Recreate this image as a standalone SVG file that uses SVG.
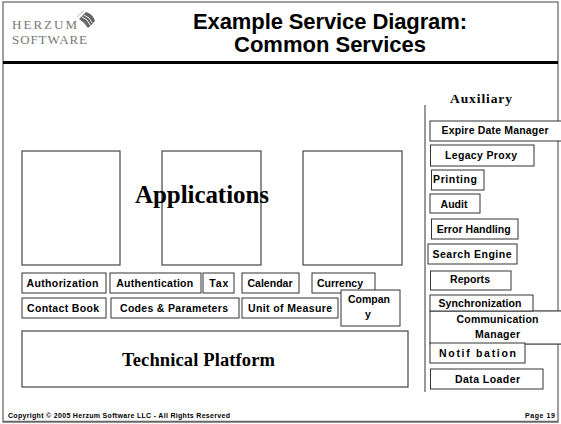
<svg xmlns="http://www.w3.org/2000/svg" width="561" height="424" viewBox="0 0 561 424">
<style>
.box{fill:#fff;stroke:#333;stroke-width:1}
.app{fill:none;stroke:#444;stroke-width:1.2}
.lbl{font-family:"Liberation Sans",Arial,sans-serif;font-weight:bold;font-size:10.5px;fill:#000;text-anchor:middle}
.serif{font-family:"Liberation Serif","Times New Roman",serif;font-weight:bold;fill:#000;text-anchor:middle}
.title{font-family:"Liberation Sans",Arial,sans-serif;font-weight:bold;font-size:22px;fill:#000;text-anchor:middle}
.foot{font-family:"Liberation Sans",Arial,sans-serif;font-weight:bold;font-size:7px;fill:#000}
.logo{font-family:"Liberation Serif","Times New Roman",serif;font-size:13px;fill:#777}
</style>
<rect x="0" y="0" width="561" height="424" fill="#fff"/>
<g id="frame">
<rect x="3" y="2" width="555" height="420" fill="none" stroke="#808080" stroke-width="1.5"/>
<line x1="3" y1="62.5" x2="558" y2="62.5" stroke="#000" stroke-width="3"/>
<line x1="3" y1="421.5" x2="558" y2="421.5" stroke="#666" stroke-width="1.5"/>
</g>
<g id="logo">
<text class="logo" x="12" y="29" textLength="65">HERZUM</text>
<text class="logo" x="12" y="43.5" textLength="75">SOFTWARE</text>
<path d="M79,19 L86,12 Q93,14 95,21 L88,28 Q84,22 79,19 Z" fill="#666"/>
<path d="M82,17 Q88,19 90,25 M84,15 Q90,17 92,23" fill="none" stroke="#fff" stroke-width="0.9"/>
<path d="M77,17 Q80,13 84,11" fill="none" stroke="#aaa" stroke-width="0.8"/>
</g>
<g id="title">
<text class="title" x="330" y="29" textLength="274">Example Service Diagram:</text>
<text class="title" x="330" y="52">Common Services</text>
</g>
<g id="applications">
<rect class="app" x="22" y="151" width="98" height="114"/>
<rect class="app" x="162" y="151" width="99" height="114"/>
<rect class="app" x="303" y="151" width="99" height="114"/>
<text class="serif" x="202" y="203" font-size="25" textLength="134">Applications</text>
</g>
<g id="authorization"><rect class="box" x="22" y="273" width="84" height="20"/><text class="lbl" x="62.5" y="287" textLength="72">Authorization</text></g>
<g id="authentication"><rect class="box" x="110" y="273" width="91" height="20"/><text class="lbl" x="154.7" y="287" textLength="77">Authentication</text></g>
<g id="tax"><rect class="box" x="203" y="273" width="31" height="20"/><text class="lbl" x="218.8" y="287" textLength="19">Tax</text></g>
<g id="calendar"><rect class="box" x="242" y="273" width="57" height="20"/><text class="lbl" x="270" y="287" textLength="45">Calendar</text></g>
<g id="currency"><rect class="box" x="312" y="273" width="63" height="20"/><text class="lbl" x="340" y="287" textLength="46">Currency</text></g>
<g id="contact-book"><rect class="box" x="22" y="298" width="84" height="20"/><text class="lbl" x="63" y="312" textLength="72">Contact Book</text></g>
<g id="codes-parameters"><rect class="box" x="111" y="298" width="128" height="20"/><text class="lbl" x="174" y="312" textLength="108">Codes &amp; Parameters</text></g>
<g id="unit-of-measure"><rect class="box" x="242" y="298" width="96" height="20"/><text class="lbl" x="290" y="312" textLength="84">Unit of Measure</text></g>
<g id="company"><rect class="box" x="341" y="290" width="59" height="36"/><text class="lbl" x="369" y="303" textLength="42">Compan</text><text class="lbl" x="368" y="318">y</text></g>
<g id="technical-platform">
<rect class="app" x="22" y="331" width="386" height="56"/>
<text class="serif" x="198.5" y="366" font-size="18.5" textLength="153">Technical Platform</text>
</g>
<g id="auxiliary">
<text class="serif" x="481" y="103" font-size="13.5" textLength="62">Auxiliary</text>
<line x1="425" y1="105" x2="425" y2="392" stroke="#333" stroke-width="1"/>
</g>
<g id="connectors">
<line x1="533" y1="311" x2="561" y2="311" stroke="#777" stroke-width="1"/>
<line x1="525" y1="344" x2="561" y2="344" stroke="#777" stroke-width="1"/>
</g>
<g id="expire-date-manager"><rect class="box" x="430" y="121" width="135" height="20"/><text class="lbl" x="495" y="134" textLength="107">Expire Date Manager</text></g>
<g id="legacy-proxy"><rect class="box" x="430.5" y="145" width="103.5" height="21"/><text class="lbl" x="481" y="159" textLength="72">Legacy Proxy</text></g>
<g id="printing"><rect class="box" x="431.5" y="170" width="52.5" height="20"/><text class="lbl" x="455" y="183" textLength="44">Printing</text></g>
<g id="audit"><rect class="box" x="430" y="194" width="50" height="19"/><text class="lbl" x="454" y="208" textLength="27">Audit</text></g>
<g id="error-handling"><rect class="box" x="431.5" y="219" width="86.5" height="20"/><text class="lbl" x="473.7" y="233" textLength="74">Error Handling</text></g>
<g id="search-engine"><rect class="box" x="428" y="244" width="89" height="20"/><text class="lbl" x="472" y="257.5" textLength="79">Search Engine</text></g>
<g id="reports"><rect class="box" x="430.5" y="271" width="80.5" height="19"/><text class="lbl" x="470" y="283" textLength="40">Reports</text></g>
<g id="communication-manager"><rect class="box" x="430" y="311" width="140" height="33"/><text class="lbl" x="497.5" y="323" textLength="82">Communication</text><text class="lbl" x="497.5" y="338" textLength="45">Manager</text></g>
<g id="synchronization"><rect class="box" x="430" y="295" width="103" height="16"/><text class="lbl" x="480" y="307" textLength="83">Synchronization</text></g>
<g id="notification"><rect class="box" x="430" y="343" width="95" height="20"/><text class="lbl" x="477.5" y="357" textLength="77">Notif bation</text></g>
<g id="data-loader"><rect class="box" x="430.5" y="369" width="112.5" height="20"/><text class="lbl" x="487.5" y="383" textLength="65">Data Loader</text></g>
<g id="footer">
<text class="foot" x="8" y="418" textLength="222">Copyright ©  2005 Herzum Software LLC  - All Rights Reserved</text>
<text class="foot" x="525" y="418" textLength="30">Page 19</text>
</g>
</svg>
